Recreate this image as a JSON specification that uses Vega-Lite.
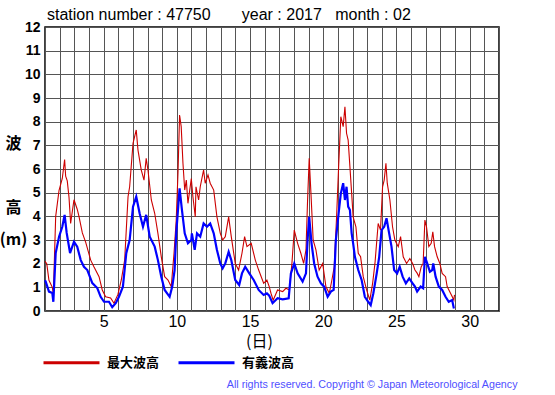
{
  "$schema": "https://vega.github.io/schema/vega-lite/v6.json",
  "autosize": "none",
  "width": 454,
  "height": 284,
  "padding": {"left": 45, "top": 27, "right": 56, "bottom": 84},
  "background": "#ffffff",
  "title": {
    "text": "station number : 47750\u00a0\u00a0\u00a0\u00a0\u00a0\u00a0\u00a0year : 2017\u00a0\u00a0\u00a0month : 02",
    "anchor": "start", "frame": "group", "orient": "top", "offset": 5, "dx": 2, "dy": 21,
    "font": "Liberation Sans", "fontSize": 16, "fontWeight": "normal", "color": "#000000", "baseline": "alphabetic"
  },
  "datasets": {
    "max": [
      {"d":1.00,"h":2.1,"s":"最大波高"},{"d":1.12,"h":2.0,"s":"最大波高"},{"d":1.27,"h":1.3,"s":"最大波高"},{"d":1.50,"h":1.0,"s":"最大波高"},{"d":1.57,"h":0.7,"s":"最大波高"},{"d":1.73,"h":4.0,"s":"最大波高"},{"d":1.96,"h":5.1,"s":"最大波高"},{"d":2.18,"h":5.6,"s":"最大波高"},{"d":2.34,"h":6.4,"s":"最大波高"},{"d":2.41,"h":5.7,"s":"最大波高"},{"d":2.52,"h":5.5,"s":"最大波高"},{"d":2.64,"h":4.8,"s":"最大波高"},{"d":2.75,"h":3.7,"s":"最大波高"},{"d":2.98,"h":4.7,"s":"最大波高"},{"d":3.20,"h":4.3,"s":"最大波高"},{"d":3.32,"h":4.0,"s":"最大波高"},{"d":3.55,"h":3.3,"s":"最大波高"},{"d":3.78,"h":2.9,"s":"最大波高"},{"d":4.12,"h":2.15,"s":"最大波高"},{"d":4.34,"h":1.87,"s":"最大波高"},{"d":4.69,"h":1.45,"s":"最大波高"},{"d":4.91,"h":0.89,"s":"最大波高"},{"d":5.14,"h":0.6,"s":"最大波高"},{"d":5.48,"h":0.55,"s":"最大波高"},{"d":5.71,"h":0.33,"s":"最大波高"},{"d":5.98,"h":0.7,"s":"最大波高"},{"d":6.21,"h":1.31,"s":"最大波高"},{"d":6.44,"h":2.15,"s":"最大波高"},{"d":6.67,"h":4.83,"s":"最大波高"},{"d":6.78,"h":5.25,"s":"最大波高"},{"d":7.01,"h":7.08,"s":"最大波高"},{"d":7.23,"h":7.65,"s":"最大波高"},{"d":7.35,"h":6.8,"s":"最大波高"},{"d":7.57,"h":5.96,"s":"最大波高"},{"d":7.76,"h":5.53,"s":"最大波高"},{"d":7.91,"h":6.45,"s":"最大波高"},{"d":8.03,"h":5.96,"s":"最大波高"},{"d":8.26,"h":4.69,"s":"最大波高"},{"d":8.49,"h":4.13,"s":"最大波高"},{"d":8.71,"h":3.28,"s":"最大波高"},{"d":8.94,"h":2.29,"s":"最大波高"},{"d":9.17,"h":1.45,"s":"最大波高"},{"d":9.40,"h":1.31,"s":"最大波高"},{"d":9.62,"h":1.03,"s":"最大波高"},{"d":9.81,"h":2.44,"s":"最大波高"},{"d":9.96,"h":3.84,"s":"最大波高"},{"d":10.08,"h":5.82,"s":"最大波高"},{"d":10.19,"h":8.28,"s":"最大波高"},{"d":10.30,"h":7.79,"s":"最大波高"},{"d":10.42,"h":6.24,"s":"最大波高"},{"d":10.54,"h":5.11,"s":"最大波高"},{"d":10.65,"h":5.53,"s":"最大波高"},{"d":10.76,"h":4.55,"s":"最大波高"},{"d":10.99,"h":5.6,"s":"最大波高"},{"d":11.10,"h":4.83,"s":"最大波高"},{"d":11.26,"h":3.98,"s":"最大波高"},{"d":11.31,"h":5.25,"s":"最大波高"},{"d":11.49,"h":4.69,"s":"最大波高"},{"d":11.60,"h":5.25,"s":"最大波高"},{"d":11.83,"h":5.96,"s":"最大波高"},{"d":11.94,"h":5.4,"s":"最大波高"},{"d":12.13,"h":5.75,"s":"最大波高"},{"d":12.28,"h":5.4,"s":"最大波高"},{"d":12.52,"h":5.11,"s":"最大波高"},{"d":12.74,"h":3.98,"s":"最大波高"},{"d":12.97,"h":3.28,"s":"最大波高"},{"d":13.13,"h":3.0,"s":"最大波高"},{"d":13.31,"h":3.14,"s":"最大波高"},{"d":13.54,"h":3.98,"s":"最大波高"},{"d":13.72,"h":3.14,"s":"最大波高"},{"d":13.99,"h":2.01,"s":"最大波高"},{"d":14.22,"h":1.73,"s":"最大波高"},{"d":14.45,"h":2.44,"s":"最大波高"},{"d":14.63,"h":3.14,"s":"最大波高"},{"d":14.79,"h":2.72,"s":"最大波高"},{"d":15.08,"h":2.86,"s":"最大波高"},{"d":15.36,"h":2.15,"s":"最大波高"},{"d":15.59,"h":1.73,"s":"最大波高"},{"d":15.93,"h":1.17,"s":"最大波高"},{"d":16.15,"h":1.31,"s":"最大波高"},{"d":16.31,"h":1.03,"s":"最大波高"},{"d":16.43,"h":0.75,"s":"最大波高"},{"d":16.58,"h":0.46,"s":"最大波高"},{"d":16.88,"h":0.89,"s":"最大波高"},{"d":17.23,"h":0.82,"s":"最大波高"},{"d":17.45,"h":0.96,"s":"最大波高"},{"d":17.68,"h":0.89,"s":"最大波高"},{"d":17.86,"h":2.01,"s":"最大波高"},{"d":18.02,"h":3.42,"s":"最大波高"},{"d":18.25,"h":2.86,"s":"最大波高"},{"d":18.47,"h":2.44,"s":"最大波高"},{"d":18.66,"h":2.01,"s":"最大波高"},{"d":18.82,"h":2.58,"s":"最大波高"},{"d":18.93,"h":4.69,"s":"最大波高"},{"d":19.04,"h":6.45,"s":"最大波高"},{"d":19.16,"h":4.97,"s":"最大波高"},{"d":19.31,"h":3.0,"s":"最大波高"},{"d":19.50,"h":2.58,"s":"最大波高"},{"d":19.72,"h":1.73,"s":"最大波高"},{"d":19.96,"h":2.01,"s":"最大波高"},{"d":20.18,"h":1.03,"s":"最大波高"},{"d":20.41,"h":0.75,"s":"最大波高"},{"d":20.59,"h":1.31,"s":"最大波高"},{"d":20.75,"h":1.87,"s":"最大波高"},{"d":20.91,"h":3.98,"s":"最大波高"},{"d":21.05,"h":6.1,"s":"最大波高"},{"d":21.20,"h":8.21,"s":"最大波高"},{"d":21.36,"h":7.79,"s":"最大波高"},{"d":21.48,"h":8.63,"s":"最大波高"},{"d":21.59,"h":7.51,"s":"最大波高"},{"d":21.70,"h":7.22,"s":"最大波高"},{"d":21.82,"h":6.1,"s":"最大波高"},{"d":21.94,"h":4.97,"s":"最大波高"},{"d":22.04,"h":3.98,"s":"最大波高"},{"d":22.23,"h":3.56,"s":"最大波高"},{"d":22.39,"h":2.44,"s":"最大波高"},{"d":22.55,"h":2.29,"s":"最大波高"},{"d":22.73,"h":1.45,"s":"最大波高"},{"d":22.96,"h":0.89,"s":"最大波高"},{"d":23.18,"h":0.46,"s":"最大波高"},{"d":23.37,"h":1.17,"s":"最大波高"},{"d":23.53,"h":2.01,"s":"最大波高"},{"d":23.75,"h":3.7,"s":"最大波高"},{"d":23.91,"h":3.42,"s":"最大波高"},{"d":24.05,"h":5.25,"s":"最大波高"},{"d":24.16,"h":5.53,"s":"最大波高"},{"d":24.28,"h":6.24,"s":"最大波高"},{"d":24.37,"h":5.4,"s":"最大波高"},{"d":24.55,"h":4.69,"s":"最大波高"},{"d":24.73,"h":3.56,"s":"最大波高"},{"d":24.89,"h":3.0,"s":"最大波高"},{"d":25.12,"h":2.72,"s":"最大波高"},{"d":25.28,"h":3.14,"s":"最大波高"},{"d":25.46,"h":2.29,"s":"最大波高"},{"d":25.69,"h":2.01,"s":"最大波高"},{"d":25.91,"h":2.22,"s":"最大波高"},{"d":26.10,"h":2.01,"s":"最大波高"},{"d":26.26,"h":1.73,"s":"最大波高"},{"d":26.41,"h":1.6,"s":"最大波高"},{"d":26.53,"h":1.45,"s":"最大波高"},{"d":26.69,"h":1.87,"s":"最大波高"},{"d":26.82,"h":2.01,"s":"最大波高"},{"d":26.94,"h":3.84,"s":"最大波高"},{"d":27.05,"h":3.56,"s":"最大波高"},{"d":27.21,"h":2.72,"s":"最大波高"},{"d":27.37,"h":2.86,"s":"最大波高"},{"d":27.48,"h":3.35,"s":"最大波高"},{"d":27.60,"h":2.72,"s":"最大波高"},{"d":27.78,"h":2.29,"s":"最大波高"},{"d":27.96,"h":2.01,"s":"最大波高"},{"d":28.12,"h":1.59,"s":"最大波高"},{"d":28.35,"h":1.45,"s":"最大波高"},{"d":28.46,"h":1.03,"s":"最大波高"},{"d":28.69,"h":0.75,"s":"最大波高"},{"d":28.92,"h":0.46,"s":"最大波高"},{"d":28.96,"h":0.68,"s":"最大波高"}
    ],
    "sig": [
      {"d":1.00,"h":1.3,"s":"有義波高"},{"d":1.05,"h":1.24,"s":"有義波高"},{"d":1.27,"h":0.82,"s":"有義波高"},{"d":1.50,"h":0.76,"s":"有義波高"},{"d":1.57,"h":0.39,"s":"有義波高"},{"d":1.73,"h":2.45,"s":"有義波高"},{"d":1.96,"h":3.14,"s":"有義波高"},{"d":2.18,"h":3.56,"s":"有義波高"},{"d":2.34,"h":4.06,"s":"有義波高"},{"d":2.48,"h":3.3,"s":"有義波高"},{"d":2.71,"h":2.45,"s":"有義波高"},{"d":2.98,"h":2.93,"s":"有義波高"},{"d":3.20,"h":2.72,"s":"有義波高"},{"d":3.44,"h":2.15,"s":"有義波高"},{"d":3.66,"h":1.87,"s":"有義波高"},{"d":3.89,"h":1.73,"s":"有義波高"},{"d":4.23,"h":1.18,"s":"有義波高"},{"d":4.57,"h":0.97,"s":"有義波高"},{"d":4.80,"h":0.6,"s":"有義波高"},{"d":5.03,"h":0.39,"s":"有義波高"},{"d":5.37,"h":0.39,"s":"有義波高"},{"d":5.59,"h":0.16,"s":"有義波高"},{"d":5.83,"h":0.33,"s":"有義波高"},{"d":6.05,"h":0.6,"s":"有義波高"},{"d":6.32,"h":1.03,"s":"有義波高"},{"d":6.55,"h":2.44,"s":"有義波高"},{"d":6.78,"h":3.0,"s":"有義波高"},{"d":7.01,"h":4.41,"s":"有義波高"},{"d":7.23,"h":4.83,"s":"有義波高"},{"d":7.46,"h":4.13,"s":"有義波高"},{"d":7.69,"h":3.56,"s":"有義波高"},{"d":7.91,"h":4.06,"s":"有義波高"},{"d":8.15,"h":3.14,"s":"有義波高"},{"d":8.49,"h":2.72,"s":"有義波高"},{"d":8.71,"h":2.15,"s":"有義波高"},{"d":8.94,"h":1.45,"s":"有義波高"},{"d":9.17,"h":0.89,"s":"有義波高"},{"d":9.51,"h":0.6,"s":"有義波高"},{"d":9.69,"h":1.03,"s":"有義波高"},{"d":9.85,"h":1.73,"s":"有義波高"},{"d":9.96,"h":3.28,"s":"有義波高"},{"d":10.19,"h":5.18,"s":"有義波高"},{"d":10.35,"h":4.27,"s":"有義波高"},{"d":10.54,"h":3.28,"s":"有義波高"},{"d":10.76,"h":2.86,"s":"有義波高"},{"d":10.99,"h":3.0,"s":"有義波高"},{"d":11.03,"h":3.28,"s":"有義波高"},{"d":11.22,"h":2.58,"s":"有義波高"},{"d":11.38,"h":3.28,"s":"有義波高"},{"d":11.60,"h":3.14,"s":"有義波高"},{"d":11.83,"h":3.7,"s":"有義波高"},{"d":12.06,"h":3.56,"s":"有義波高"},{"d":12.28,"h":3.7,"s":"有義波高"},{"d":12.52,"h":3.28,"s":"有義波高"},{"d":12.74,"h":2.58,"s":"有義波高"},{"d":12.97,"h":2.01,"s":"有義波高"},{"d":13.13,"h":1.8,"s":"有義波高"},{"d":13.31,"h":2.01,"s":"有義波高"},{"d":13.54,"h":2.5,"s":"有義波高"},{"d":13.72,"h":2.15,"s":"有義波高"},{"d":13.99,"h":1.31,"s":"有義波高"},{"d":14.26,"h":1.1,"s":"有義波高"},{"d":14.45,"h":1.59,"s":"有義波高"},{"d":14.67,"h":1.87,"s":"有義波高"},{"d":14.95,"h":1.59,"s":"有義波高"},{"d":15.25,"h":1.31,"s":"有義波高"},{"d":15.59,"h":0.89,"s":"有義波高"},{"d":15.93,"h":0.68,"s":"有義波高"},{"d":16.15,"h":0.75,"s":"有義波高"},{"d":16.31,"h":0.65,"s":"有義波高"},{"d":16.54,"h":0.33,"s":"有義波高"},{"d":16.88,"h":0.54,"s":"有義波高"},{"d":17.23,"h":0.49,"s":"有義波高"},{"d":17.64,"h":0.54,"s":"有義波高"},{"d":17.79,"h":1.59,"s":"有義波高"},{"d":18.02,"h":2.01,"s":"有義波高"},{"d":18.25,"h":1.59,"s":"有義波高"},{"d":18.59,"h":1.24,"s":"有義波高"},{"d":18.82,"h":1.59,"s":"有義波高"},{"d":18.93,"h":3.0,"s":"有義波高"},{"d":19.04,"h":3.98,"s":"有義波高"},{"d":19.20,"h":2.86,"s":"有義波高"},{"d":19.38,"h":2.01,"s":"有義波高"},{"d":19.61,"h":1.45,"s":"有義波高"},{"d":19.84,"h":1.17,"s":"有義波高"},{"d":20.06,"h":1.03,"s":"有義波高"},{"d":20.30,"h":0.6,"s":"有義波高"},{"d":20.52,"h":0.82,"s":"有義波高"},{"d":20.71,"h":0.89,"s":"有義波高"},{"d":20.86,"h":3.0,"s":"有義波高"},{"d":21.05,"h":4.13,"s":"有義波高"},{"d":21.20,"h":4.97,"s":"有義波高"},{"d":21.36,"h":5.4,"s":"有義波高"},{"d":21.48,"h":4.69,"s":"有義波高"},{"d":21.59,"h":5.25,"s":"有義波高"},{"d":21.70,"h":4.41,"s":"有義波高"},{"d":21.82,"h":4.27,"s":"有義波高"},{"d":21.94,"h":3.28,"s":"有義波高"},{"d":22.04,"h":2.86,"s":"有義波高"},{"d":22.16,"h":2.29,"s":"有義波高"},{"d":22.39,"h":1.73,"s":"有義波高"},{"d":22.62,"h":1.31,"s":"有義波高"},{"d":22.84,"h":0.6,"s":"有義波高"},{"d":23.07,"h":0.39,"s":"有義波高"},{"d":23.24,"h":0.25,"s":"有義波高"},{"d":23.42,"h":0.75,"s":"有義波高"},{"d":23.65,"h":1.59,"s":"有義波高"},{"d":23.82,"h":2.29,"s":"有義波高"},{"d":23.98,"h":3.42,"s":"有義波高"},{"d":24.16,"h":3.56,"s":"有義波高"},{"d":24.32,"h":3.92,"s":"有義波高"},{"d":24.50,"h":3.28,"s":"有義波高"},{"d":24.66,"h":2.72,"s":"有義波高"},{"d":24.84,"h":1.73,"s":"有義波高"},{"d":25.04,"h":1.59,"s":"有義波高"},{"d":25.22,"h":1.87,"s":"有義波高"},{"d":25.42,"h":1.45,"s":"有義波高"},{"d":25.64,"h":1.17,"s":"有義波高"},{"d":25.87,"h":1.38,"s":"有義波高"},{"d":26.10,"h":1.17,"s":"有義波高"},{"d":26.26,"h":1.03,"s":"有義波高"},{"d":26.41,"h":0.82,"s":"有義波高"},{"d":26.65,"h":1.03,"s":"有義波高"},{"d":26.82,"h":0.96,"s":"有義波高"},{"d":26.94,"h":2.29,"s":"有義波高"},{"d":27.10,"h":2.01,"s":"有義波高"},{"d":27.28,"h":1.66,"s":"有義波高"},{"d":27.44,"h":1.73,"s":"有義波高"},{"d":27.51,"h":2.01,"s":"有義波高"},{"d":27.67,"h":1.45,"s":"有義波高"},{"d":27.89,"h":1.03,"s":"有義波高"},{"d":28.12,"h":0.89,"s":"有義波高"},{"d":28.35,"h":0.6,"s":"有義波高"},{"d":28.57,"h":0.39,"s":"有義波高"},{"d":28.80,"h":0.46,"s":"有義波高"},{"d":28.92,"h":0.11,"s":"有義波高"}
    ]
  },
  "encoding": {
    "y": {
      "field": "h", "type": "quantitative",
      "scale": {"domain": [0, 12], "nice": false, "zero": false},
      "axis": {
        "values": [0,1,2,3,4,5,6,7,8,9,10,11,12],
        "grid": true, "ticks": false, "domain": false,
        "labelFont": "Liberation Sans", "labelFontSize": 14, "labelFontWeight": "bold", "labelColor": "#000000",
        "labelPadding": 5, "labelFlush": false, "labelOverlap": false,
        "title": ["波", "\u200b", "高", "(m)"],
        "titleAngle": 0, "titleX": -32, "titleY": 108, "titleAlign": "center", "titleBaseline": "top",
        "titleLineHeight": 32, "titleFont": "Noto Sans CJK JP", "titleFontSize": 16, "titleFontWeight": "bold", "titleColor": "#000000"
      }
    }
  },
  "layer": [
    {
      "data": {"name": "max"},
      "mark": {"type": "line", "strokeWidth": 1.1, "interpolate": "linear"},
      "encoding": {
        "x": {
          "field": "d", "type": "quantitative",
          "scale": {"domain": [1, 32], "nice": false, "zero": false},
          "axis": {
            "orient": "bottom",
            "values": [1,2,3,4,5,6,7,8,9,10,11,12,13,14,15,16,17,18,19,20,21,22,23,24,25,26,27,28,29,30,31,32],
            "labelExpr": "datum.value % 5 === 0 ? datum.label : ''",
            "grid": true, "ticks": false, "domain": false,
            "labelFont": "Liberation Sans", "labelFontSize": 16, "labelFontWeight": "normal", "labelColor": "#000000",
            "labelPadding": 2, "labelFlush": false, "labelOverlap": false,
            "title": "(日)", "titleX": 214, "titleY": 22, "titleAlign": "center", "titleBaseline": "top",
            "titleFont": "Noto Sans CJK JP", "titleFontSize": 16, "titleFontWeight": "normal", "titleColor": "#000000"
          }
        },
        "color": {
          "field": "s", "type": "nominal",
          "scale": {"domain": ["最大波高", "有義波高"], "range": ["#cc0000", "#0000ff"]},
          "legend": {
            "orient": "none", "legendX": -3, "legendY": 306, "direction": "horizontal",
            "title": null, "padding": 0, "symbolType": "stroke", "symbolSize": 3136, "symbolStrokeWidth": 3,
            "labelFont": "Noto Sans CJK JP", "labelFontSize": 13, "labelFontWeight": "bold", "labelColor": "#000000",
            "labelOffset": 6, "columnPadding": 12
          }
        }
      }
    },
    {
      "data": {"name": "sig"},
      "mark": {"type": "line", "strokeWidth": 2.2, "interpolate": "linear"},
      "encoding": {
        "x": {
          "field": "d", "type": "quantitative",
          "scale": {"domain": [1, 32], "nice": false, "zero": false},
          "axis": {
            "orient": "top", "labels": false, "ticks": false, "domain": false, "grid": false,
            "title": "All rights reserved. Copyright © Japan Meteorological Agency",
            "titleX": 472, "titleY": 357, "titleAlign": "right", "titleBaseline": "middle",
            "titleFont": "Liberation Sans", "titleFontSize": 10.7, "titleFontWeight": "normal", "titleColor": "#4f4fff"
          }
        },
        "color": {"field": "s", "type": "nominal"}
      }
    }
  ],
  "resolve": {"axis": {"x": "independent"}},
  "config": {
    "view": {"stroke": "#000000", "strokeWidth": 1.5},
    "axis": {"gridColor": "#555555", "gridOpacity": 1, "gridWidth": 1}
  }
}
